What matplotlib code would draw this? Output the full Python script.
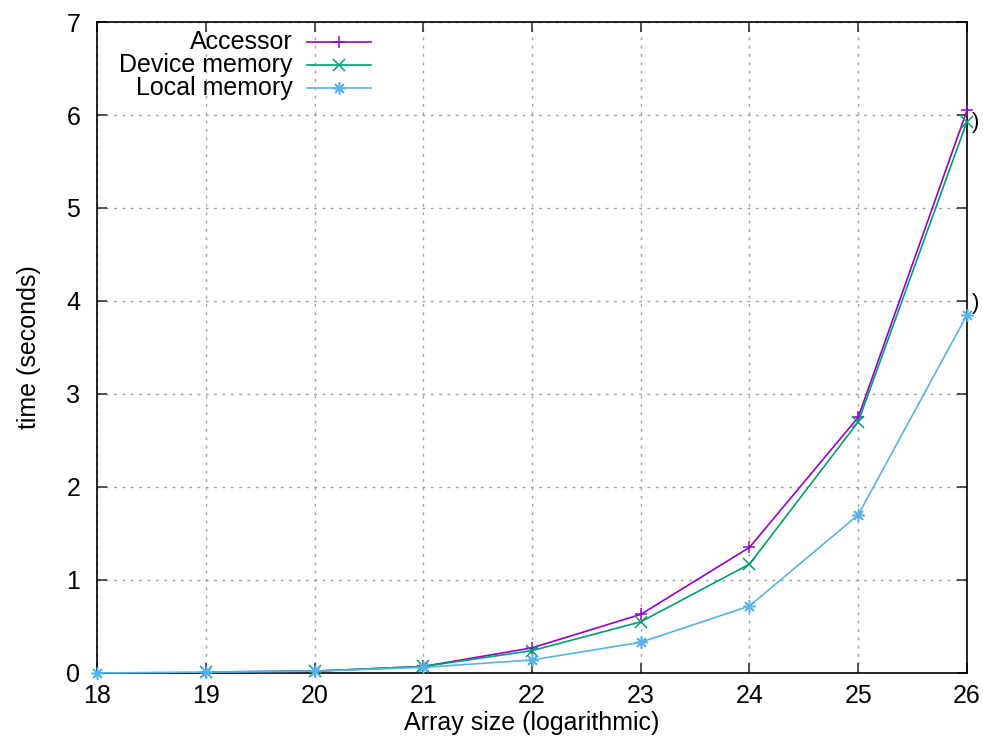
import numpy as np
import matplotlib
matplotlib.use("Agg")
import matplotlib.pyplot as plt
from matplotlib.lines import Line2D

plt.rcParams['font.family'] = ['Liberation Sans', 'DejaVu Sans']

# array size (log2) and run times in seconds
x_acc = [19, 20, 21, 22, 23, 24, 25, 26]
accessor = [0.01, 0.02, 0.07, 0.27, 0.63, 1.35, 2.75, 6.05]

x_dev = [19, 20, 21, 22, 23, 24, 25, 26]
device = [0.01, 0.02, 0.07, 0.24, 0.55, 1.17, 2.70, 5.93]

x_loc = [18, 19, 20, 21, 22, 23, 24, 25, 26]
local = [0.0, 0.01, 0.02, 0.06, 0.14, 0.33, 0.72, 1.70, 3.85]

names = ["Accessor", "Device memory", "Local memory"]
colors = ["#9400d3", "#009e73", "#56b4e9"]
markers = ["+", "x", (8, 2, 0)]

fs = 18

fig = plt.figure(figsize=(9.83, 7.41), dpi=100)
ax = fig.add_axes([0.0987, 0.0918, 0.885, 0.8785])

series = [(x_acc, accessor), (x_dev, device), (x_loc, local)]
for (xs, ys), c, m in zip(series, colors, markers):
    ax.plot(xs, ys, color=c, lw=1.2, marker=m, ms=9, mew=1.1, clip_on=False, zorder=3)

ax.set_xlim(18, 26)
ax.set_ylim(0, 7)
ax.set_xticks(range(18, 27))
ax.set_yticks(range(0, 8))
ax.grid(True, color="#a0a0a0", ls=(0, (2, 4)), lw=1.0)
ax.tick_params(direction="in", top=True, right=True, length=7, width=1.2,
               labelsize=fs, color="#333333")
ax.tick_params(axis="y", pad=12)
ax.tick_params(axis="x", pad=8)
for s in ax.spines.values():
    s.set_linewidth(1.2)
ax.set_xlabel("Array size (logarithmic)", fontsize=fs, labelpad=2)
ax.set_ylabel("time (seconds)", fontsize=fs, labelpad=18)

# gnuplot-style key: right aligned text, sample to the right
for i, (n, c, m) in enumerate(zip(names, colors, markers)):
    yk = 0.97 - i * 0.036
    ax.text(0.225, yk, n, transform=ax.transAxes, ha="right", va="center", fontsize=fs)
    ax.add_line(Line2D([0.241, 0.315], [yk, yk], transform=ax.transAxes, color=c, lw=1.2))
    ax.add_line(Line2D([0.278], [yk], transform=ax.transAxes, color=c, marker=m,
                       ms=9, mew=1.1, ls="none"))

# stray clipped glyphs at right edge
fig.text(0.993, 0.835, ")", fontsize=16, ha="center", va="center")
fig.text(0.993, 0.59, ")", fontsize=16, ha="center", va="center")

fig.savefig("out.png", dpi=100)
